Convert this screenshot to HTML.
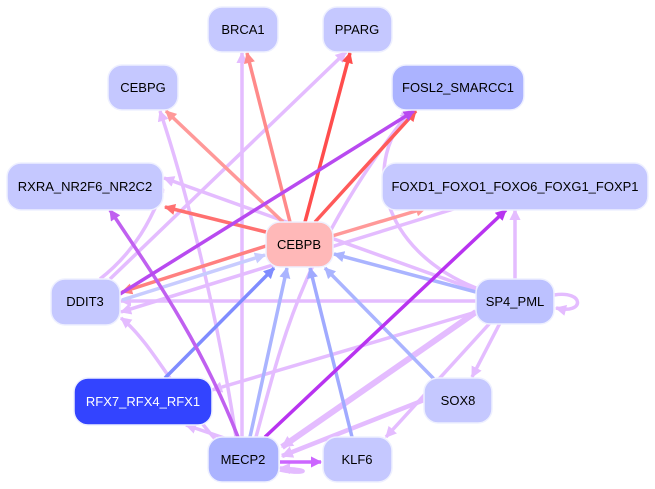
<!DOCTYPE html>
<html><head><meta charset="utf-8"><style>
html,body{margin:0;padding:0;background:#fff;}
svg{display:block;font-family:"Liberation Sans",sans-serif;}
</style></head><body>
<svg width="655" height="489" viewBox="0 0 655 489" xmlns="http://www.w3.org/2000/svg">
<defs>
<marker id="a" viewBox="0 0 10 10" refX="9" refY="5" markerWidth="3.2" markerHeight="3.2" orient="auto-start-reverse" markerUnits="strokeWidth"><path d="M0,0L10,5L0,10z" fill="context-stroke"/></marker>
<marker id="b" viewBox="0 0 10 10" refX="9" refY="5" markerWidth="12" markerHeight="12" orient="auto" markerUnits="userSpaceOnUse"><path d="M0,0L10,5L0,10z" fill="context-stroke"/></marker>
</defs>
<g fill="none" stroke-width="3.5" marker-end="url(#a)">
<g stroke="#e4bcff">
<path d="M242,437 L242,53"/>
<path d="M110,279 L346,52"/>
<path d="M476,301 L121,301"/>
<path d="M515,279 L515,210"/>
<path d="M476,290 L164,178"/>
<path d="M476,288 C380,250 360,160 412,110"/>
<path d="M500,323 L472,377"/>
<path d="M490,323 L386,437"/>
<path d="M476,312 L212,390"/>
<path d="M460,207 L121,312"/>
<path d="M216,440 C180,400 150,340 121,318"/>
<path d="M230,440 L186,425"/>
<path d="M236,437 C220,330 190,200 160,111"/>
<path d="M256,437 C280,350 300,250 410,111"/>
<path d="M100,279 C150,240 160,190 164,190"/>
<path d="M554,295 C585,290 585,315 556,308"/>
<path d="M280,470 C300,475 320,470 280,468"/>
</g>
<path stroke="#e4bcff" stroke-width="6" marker-end="url(#b)" d="M476,312 L282,447"/>
<path stroke="#e4bcff" stroke-width="4.5" marker-end="url(#b)" d="M424,400 L282,456"/>
<path stroke="#ff8a8a" d="M290,222 L247,53"/>
<path stroke="#ff4d4d" d="M305,222 L350,53"/>
<path stroke="#ff5a5a" d="M315,222 L416,111"/>
<path stroke="#ff9999" d="M283,222 L166,111"/>
<path stroke="#ff7070" d="M266,232 L165,207"/>
<path stroke="#ff9999" d="M332,236 L426,208"/>
<path stroke="#ff8080" d="M266,246 L122,292"/>
<path stroke="#c8ccff" d="M122,300 L265,255"/>
<path stroke="#7f8cff" d="M165,378 L274,268"/>
<path stroke="#aab4ff" d="M250,437 L287,268"/>
<path stroke="#a0aaff" d="M352,437 L310,268"/>
<path stroke="#aab4ff" d="M435,380 L325,268"/>
<path stroke="#aab4ff" d="M476,292 L334,254"/>
<path stroke="#c060f0" d="M238,437 C200,340 150,270 110,210"/>
<path stroke="#b833f0" d="M265,437 L506,210"/>
<path stroke="#cc66ff" d="M280,462 L321,462"/>
<path stroke="#b84af0" d="M120,294 L414,111"/>
</g>
<g stroke="#eef0ff" stroke-width="1.5">
<rect x="208" y="7" width="70" height="45" rx="14" fill="#c5c8ff"/>
<rect x="323" y="7" width="69" height="45" rx="14" fill="#c5c8ff"/>
<rect x="108" y="65" width="70" height="45" rx="14" fill="#c5c8ff"/>
<rect x="392" y="65" width="132" height="45" rx="14" fill="#abb3ff"/>
<rect x="7" y="163" width="156" height="47" rx="14" fill="#c5c8ff"/>
<rect x="382" y="163" width="266" height="47" rx="14" fill="#c5c8ff"/>
<rect x="266" y="222" width="67" height="45" rx="14" fill="#ffb8b8"/>
<rect x="51" y="279" width="69" height="46" rx="14" fill="#c5c8ff"/>
<rect x="476" y="279" width="78" height="45" rx="14" fill="#bcc1ff"/>
<rect x="74" y="378" width="138" height="47" rx="14" fill="#3344ff"/>
<rect x="424" y="378" width="68" height="45" rx="14" fill="#c5c8ff"/>
<rect x="208" y="437" width="71" height="45" rx="14" fill="#abb3ff"/>
<rect x="323" y="437" width="69" height="45" rx="14" fill="#c5c8ff"/>
</g>
<g font-size="13" text-anchor="middle" fill="#000">
<text x="243" y="34">BRCA1</text>
<text x="357" y="34">PPARG</text>
<text x="143" y="92">CEBPG</text>
<text x="458" y="92">FOSL2_SMARCC1</text>
<text x="85" y="191">RXRA_NR2F6_NR2C2</text>
<text x="515" y="191">FOXD1_FOXO1_FOXO6_FOXG1_FOXP1</text>
<text x="299" y="249">CEBPB</text>
<text x="85" y="306">DDIT3</text>
<text x="515" y="306">SP4_PML</text>
<text x="143" y="406" fill="#fff">RFX7_RFX4_RFX1</text>
<text x="458" y="405">SOX8</text>
<text x="243" y="464">MECP2</text>
<text x="357" y="464">KLF6</text>
</g>
</svg>
</body></html>
